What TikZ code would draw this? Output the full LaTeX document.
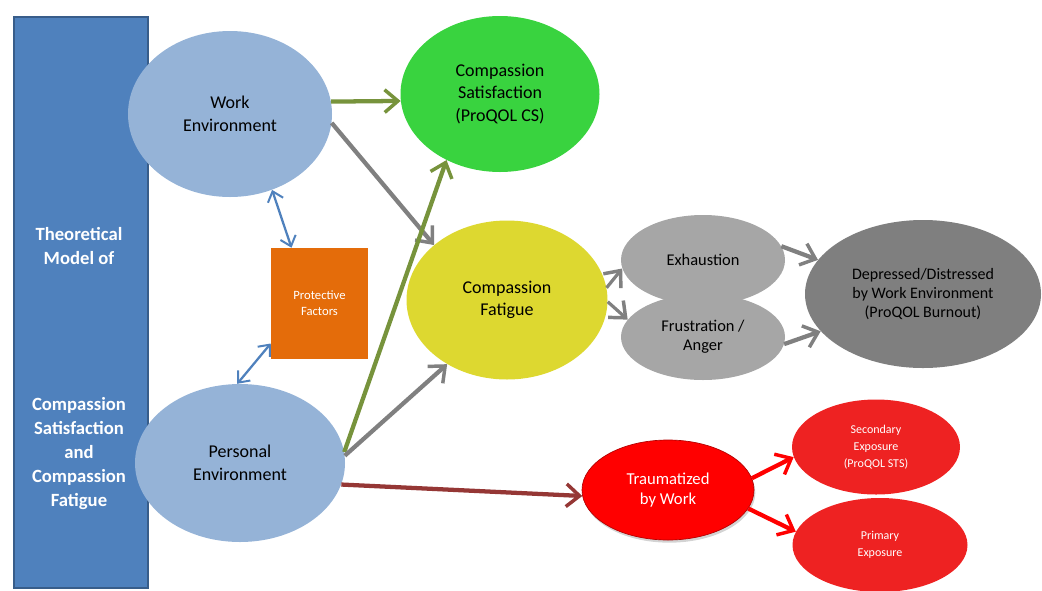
\documentclass[tikz,border=0pt]{standalone}
\usepackage{fontspec}
\setmainfont{Carlito}
\usetikzlibrary{arrows.meta,shapes.geometric,shadows}
\definecolor{leftblue}{HTML}{4F81BD}
\definecolor{leftborder}{HTML}{385D8A}
\definecolor{envblue}{HTML}{95B3D7}
\definecolor{protorange}{HTML}{E46C0A}
\definecolor{csgreen}{RGB}{57,211,63}
\definecolor{cfyellow}{RGB}{221,216,48}
\definecolor{lightgray}{HTML}{A6A6A6}
\definecolor{darkgray}{HTML}{7F7F7F}
\definecolor{arrgreen}{HTML}{77933C}
\definecolor{arrgray}{HTML}{808080}
\definecolor{arrred}{HTML}{953735}
\definecolor{brightred}{RGB}{255,0,0}
\definecolor{softred}{RGB}{238,34,34}
\tikzset{
  oval/.style={ellipse, inner sep=0pt, align=center, font=\fontsize{13.5}{17}\selectfont},
  conn/.style={line width=3.2pt, -{Straight Barb[length=10pt,width=17pt,line width=2.6pt]}},
  biconn/.style={line width=1.7pt, {Straight Barb[length=7pt,width=12pt,line width=1.5pt]}-{Straight Barb[length=7pt,width=12pt,line width=1.5pt]}, draw=leftblue},
}
\begin{document}
\begin{tikzpicture}[x=0.75pt,y=-0.75pt]
\useasboundingbox (0,0) rectangle (1042,590);
% left bar
\node[draw=leftborder, line width=1.5pt, fill=leftblue, minimum width=134pt*0.75, minimum height=571pt*0.75, anchor=north west, inner sep=0pt] (bar) at (12.5,15.5) {};
\node[text=white, font=\fontsize{14}{18}\selectfont\bfseries, align=center] (t1) at (79,246) {Theoretical\\Model of};
\node[text=white, font=\fontsize{14}{18}\selectfont\bfseries, align=center] (t2) at (79,454) {Compassion\\Satisfaction\\and\\Compassion\\Fatigue};
% ellipses
\node[oval, fill=envblue, minimum width=204pt*0.75, minimum height=166pt*0.75] (work) at (230,114) {Work\\Environment};
\node[oval, fill=envblue, minimum width=210pt*0.75, minimum height=158pt*0.75] (pers) at (240,463) {Personal\\Environment};
\node[fill=protorange, minimum width=97pt*0.75, minimum height=111pt*0.75, inner sep=0pt, text=white, align=center, font=\fontsize{9.5}{12}\selectfont] (prot) at (319.5,303.5) {Protective\\Factors};
\node[oval, fill=csgreen, minimum width=199pt*0.75, minimum height=156pt*0.75] (cs) at (500,94) {Compassion\\Satisfaction\\(ProQOL CS)};
\node[oval, fill=cfyellow, minimum width=201pt*0.75, minimum height=159pt*0.75] (cf) at (507,300) {Compassion\\Fatigue};
\node[oval, fill=lightgray, minimum width=164pt*0.75, minimum height=90pt*0.75, font=\fontsize{12.3}{14.5}\selectfont] (exh) at (703,260) {Exhaustion};
\node[oval, fill=lightgray, minimum width=164pt*0.75, minimum height=86pt*0.75, font=\fontsize{12.3}{14.5}\selectfont] (fru) at (703,337) {Frustration /\\Anger};
\node[oval, fill=darkgray, minimum width=236pt*0.75, minimum height=148pt*0.75, font=\fontsize{12}{14.5}\selectfont] (dep) at (923,294) {Depressed/Distressed\\by Work Environment\\(ProQOL Burnout)};
\node[oval, fill=brightred, draw=red!70!black, line width=0.5pt, drop shadow={shadow xshift=1pt, shadow yshift=-2pt, opacity=0.35}, minimum width=172pt*0.75, minimum height=100pt*0.75, text=white, font=\fontsize{12.5}{14.8}\selectfont] (trau) at (668,490) {Traumatized\\by Work};
\node[oval, fill=softred, minimum width=168pt*0.75, minimum height=95pt*0.75, text=white, font=\fontsize{9}{12.8}\selectfont] (sec) at (876,447) {Secondary\\Exposure\\(ProQOL STS)};
\node[oval, fill=softred, minimum width=175pt*0.75, minimum height=94pt*0.75, text=white, font=\fontsize{9}{12.8}\selectfont] (pri) at (880,545) {Primary\\Exposure};
% connectors
\draw[conn, draw=arrgreen] (work.7) -- (cs.184);
\draw[conn, draw=arrgray] (work.-5) -- (cf.143);
\draw[conn, draw=arrgreen] (pers.6) -- (cs.231);
\draw[conn, draw=arrgray] (pers.4) -- (cf.227);
\draw[conn, draw=arrred] (pers.-12) -- (trau.184);
\draw[biconn] (work.-61) -- ([xshift=-21pt]prot.north);
\draw[biconn] ([yshift=-30pt]prot.west) -- (pers.92);
\draw[conn, line width=2.4pt, draw=arrgray] (cf.7) -- (exh.186);
\draw[conn, line width=2.4pt, draw=arrgray] (cf.-1) -- (fru.167);
\draw[conn, draw=arrgray] (exh.10) -- (dep.162);
\draw[conn, draw=arrgray] (fru.-5) -- (dep.200);
\draw[conn, draw=brightred] (trau.8) -- (sec.187);
\draw[conn, draw=brightred] (trau.-13) -- (pri.171);
\end{tikzpicture}
\end{document}
